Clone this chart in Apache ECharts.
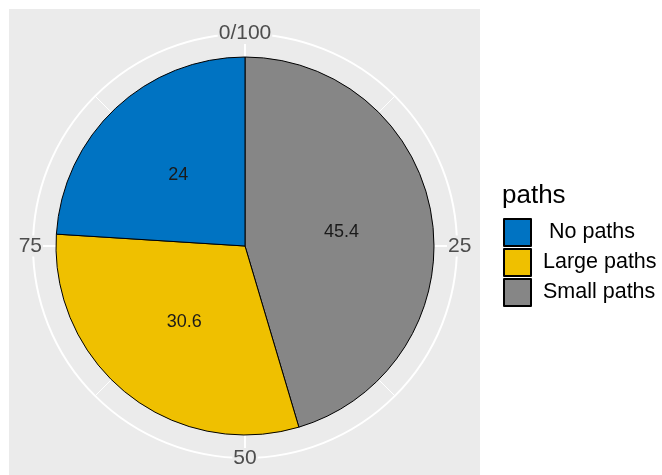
<!DOCTYPE html>
<html>
<head>
<meta charset="utf-8">
<script src="https://cdn.jsdelivr.net/npm/echarts@6/dist/echarts.min.js"></script>
<style>
html,body{margin:0;padding:0;background:#fff;}
#chart{width:662px;height:475px;}
</style>
</head>
<body>
<div id="chart"></div>
<script>
// Data (clockwise from top)
const categories = ['Small paths', 'Large paths', 'No paths'];
const values = [45.4, 30.6, 24];
const legendOrder = ['No paths', 'Large paths', 'Small paths'];
const colors = {'No paths': '#0073C2', 'Large paths': '#EFC000', 'Small paths': '#868686'};
const angleTickLabels = {0: '0/100', 25: '25', 50: '50', 75: '75', 100: '0/100'};
const legendTitle = 'paths';

const FONT = 'Liberation Sans, Arial, sans-serif';
const chart = echarts.init(document.getElementById('chart'), null, {renderer: 'canvas'});

function angleAxisBase(polarIndex) {
  return {
    polarIndex: polarIndex,
    type: 'value', min: 0, max: 100, interval: 25, startAngle: 90, clockwise: true,
    axisTick: {show: false}
  };
}
function radiusAxisBase(polarIndex) {
  return {
    polarIndex: polarIndex,
    type: 'value', min: 0, max: 1,
    axisLine: {show: false}, axisTick: {show: false}, axisLabel: {show: false},
    splitLine: {show: false}
  };
}

const gridAxis = Object.assign(angleAxisBase(0), {
  z: 0,
  axisLine: {show: true, lineStyle: {color: '#ffffff', width: 2}},
  axisLabel: {show: false},
  splitLine: {show: true, lineStyle: {color: '#ffffff', width: 2}},
  minorTick: {show: false, splitNumber: 2},
  minorSplitLine: {show: true, lineStyle: {color: '#ffffff', width: 1}}
});
const labelAxis = Object.assign(angleAxisBase(1), {
  z: 3,
  axisLine: {show: false},
  splitLine: {show: false},
  axisLabel: {
    show: true, margin: -10, color: '#4D4D4D', fontFamily: FONT, fontSize: 21,
    backgroundColor: '#EBEBEB', padding: [0, 1, 0, 1],
    formatter: function (v) { return angleTickLabels[v] !== undefined ? angleTickLabels[v] : ''; }
  }
});

const option = {
  animation: false,
  backgroundColor: '#ffffff',
  graphic: [{
    type: 'rect', z: -100, silent: true,
    shape: {x: 9, y: 9, width: 471, height: 472},
    style: {fill: '#EBEBEB'}
  }],
  title: {
    text: legendTitle, left: 497, top: 178,
    textStyle: {fontFamily: FONT, fontSize: 26, fontWeight: 'normal', color: '#000'}
  },
  legend: {
    data: legendOrder,
    orient: 'vertical',
    left: 498, top: 213,
    itemWidth: 27, itemHeight: 27, itemGap: 1,
    icon: 'rect',
    formatter: function (n) { return n === 'No paths' ? ' No paths' : n; },
    textStyle: {fontFamily: FONT, fontSize: 21.5, color: '#000', padding: [0, 0, 0, 7]}
  },
  polar: [
    {center: [245, 246], radius: 212},
    {center: [245, 246], radius: 212}
  ],
  angleAxis: [gridAxis, labelAxis],
  radiusAxis: [radiusAxisBase(0), radiusAxisBase(1)],
  series: [{
    type: 'pie',
    center: [245, 246],
    radius: [0, 189],
    startAngle: 90,
    clockwise: true,
    avoidLabelOverlap: false,
    z: 5,
    data: categories.map(function (c, i) {
      return {name: c, value: values[i], itemStyle: {color: colors[c]}};
    }),
    itemStyle: {borderColor: '#000', borderWidth: 1},
    label: {
      show: true, position: 'inside', formatter: '{c}',
      color: '#1A1A1A', fontFamily: FONT, fontSize: 18
    },
    labelLine: {show: false},
    emphasis: {disabled: true}
  }]
};
chart.setOption(option);
</script>
</body>
</html>
